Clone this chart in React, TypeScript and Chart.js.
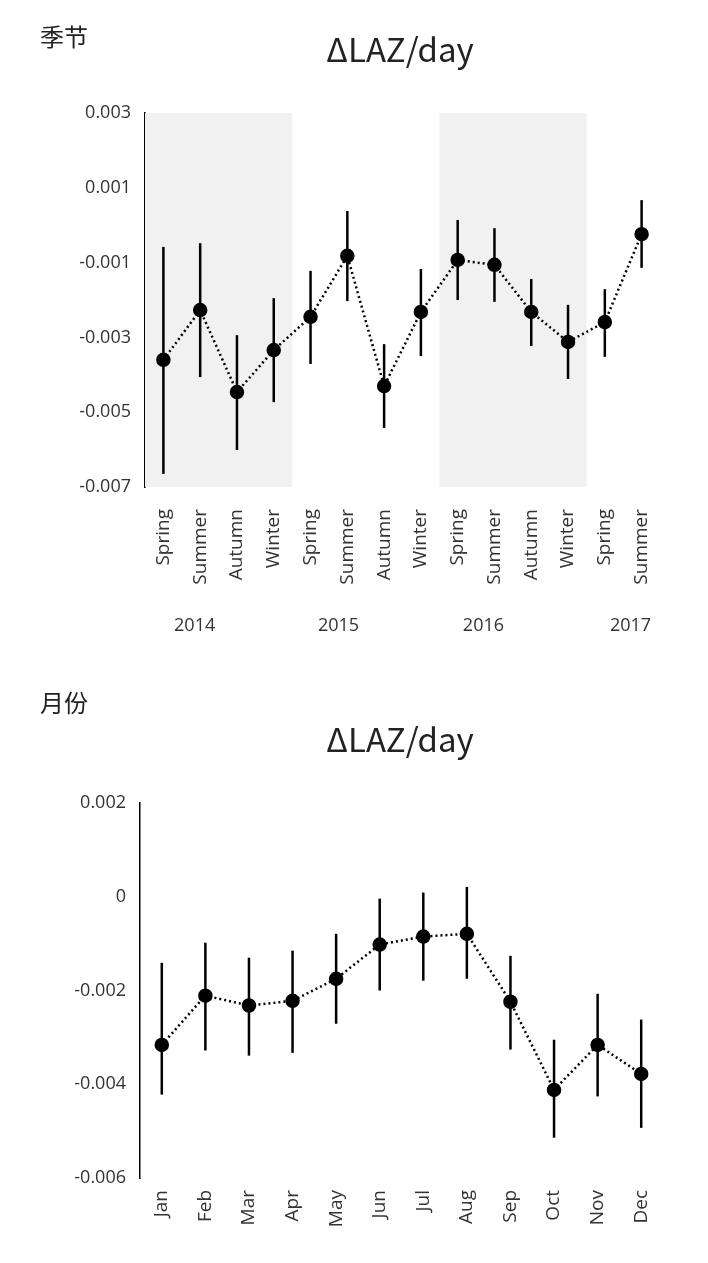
import React, { useEffect, useRef } from "react";
import { Chart, registerables } from "chart.js";
Chart.register(...registerables);

const seasonLabels = ["Spring","Summer","Autumn","Winter","Spring","Summer","Autumn","Winter","Spring","Summer","Autumn","Winter","Spring","Summer"];
const seasonMean = [-0.0036,-0.00227,-0.00446,-0.00334,-0.00245,-0.00082,-0.0043,-0.00232,-0.00093,-0.00106,-0.00232,-0.00312,-0.00259,-0.00024];
const seasonHigh = [-0.00058,-0.00048,-0.00294,-0.00195,-0.00122,0.00038,-0.00318,-0.00117,0.00014,-0.00008,-0.00144,-0.00213,-0.00171,0.00067];
const seasonLow = [-0.00665,-0.00406,-0.00601,-0.00473,-0.00371,-0.00203,-0.00542,-0.0035,-0.002,-0.00205,-0.00323,-0.00411,-0.00352,-0.00114];
const yearLabels = ["2014","2015","2016","2017"];
const yearPos = [0.85,4.76,8.7,12.7];
const shadedBlocks = [[0,3],[8,11]];

const monthLabels = ["Jan","Feb","Mar","Apr","May","Jun","Jul","Aug","Sep","Oct","Nov","Dec"];
const monthMean = [-0.00316,-0.00211,-0.00232,-0.00222,-0.00175,-0.00102,-0.00085,-0.00079,-0.00224,-0.00412,-0.00316,-0.00378];
const monthHigh = [-0.00141,-0.00098,-0.0013,-0.00115,-0.00079,-0.00004,0.00009,0.00021,-0.00126,-0.00305,-0.00207,-0.00262];
const monthLow = [-0.00422,-0.00328,-0.00339,-0.00333,-0.00271,-0.002,-0.00179,-0.00175,-0.00326,-0.00514,-0.00426,-0.00493];

const FONT = "'Open Sans', 'Noto Sans', sans-serif";

function fmt(v: number) {
  if (Math.abs(v) < 1e-9) return "0";
  return v.toFixed(3);
}

function makeChart(canvas: HTMLCanvasElement, cfg: any) {
  const { labels, mean, high, low, min, max, step, padTop, padRight, yWidth, xHeight, xPad, shade, years } = cfg;
  const plugin = {
    id: "extras",
    beforeDatasetsDraw(chart: any) {
      const ctx = chart.ctx;
      const xs = chart.scales.x, ys = chart.scales.y, a = chart.chartArea;
      if (shade) {
        ctx.save();
        ctx.fillStyle = "#f1f1f1";
        const half = (xs.getPixelForValue(1) - xs.getPixelForValue(0)) / 2;
        for (const [s, e] of shade) {
          const x0 = xs.getPixelForValue(s) - half, x1 = xs.getPixelForValue(e) + half;
          ctx.fillRect(x0, a.top, x1 - x0, a.bottom - a.top);
        }
        ctx.restore();
      }
      ctx.save();
      ctx.strokeStyle = "#000";
      ctx.lineWidth = 2.5;
      for (let i = 0; i < labels.length; i++) {
        const x = xs.getPixelForValue(i);
        ctx.beginPath();
        ctx.moveTo(x, ys.getPixelForValue(high[i]));
        ctx.lineTo(x, ys.getPixelForValue(low[i]));
        ctx.stroke();
      }
      ctx.restore();
    },
    afterDraw(chart: any) {
      if (!years) return;
      const ctx = chart.ctx, xs = chart.scales.x;
      const i0 = xs.getPixelForValue(0), step = xs.getPixelForValue(1) - i0;
      ctx.save();
      ctx.fillStyle = "#333";
      ctx.font = `18px ${FONT}`;
      ctx.textAlign = "center";
      ctx.textBaseline = "middle";
      years.labels.forEach((t: string, k: number) => ctx.fillText(t, i0 + years.pos[k] * step, years.y));
      ctx.restore();
    },
  };
  return new Chart(canvas, {
    type: "line",
    data: {
      labels,
      datasets: [{
        data: mean,
        borderColor: "#000",
        borderWidth: 2.5,
        borderDash: [2, 3],
        pointRadius: 6,
        pointBackgroundColor: "#000",
        pointBorderColor: "#000",
        tension: 0,
      }],
    },
    options: {
      animation: false,
      responsive: false,
      layout: { padding: { top: padTop, right: padRight, left: 0, bottom: 0 } },
      plugins: { legend: { display: false }, tooltip: { enabled: false } },
      scales: {
        x: {
          offset: true,
          grid: { display: false, drawTicks: false },
          border: { display: false },
          ticks: { color: "#333", font: { size: 19, family: FONT }, minRotation: 90, maxRotation: 90, padding: xPad },
          afterFit: (s: any) => { s.height = xHeight; },
        },
        y: {
          min, max,
          grid: { display: false, drawTicks: false },
          border: { display: true, color: "#000", width: 1.5 },
          ticks: { stepSize: step, color: "#333", font: { size: 18, family: FONT }, callback: (v: any) => fmt(Number(v)), padding: 14 },
          afterFit: (s: any) => { s.width = yWidth; },
        },
      },
    },
    plugins: [plugin],
  });
}

export default function App() {
  const r1 = useRef<HTMLCanvasElement>(null);
  const r2 = useRef<HTMLCanvasElement>(null);
  useEffect(() => {
    const c1 = makeChart(r1.current!, {
      labels: seasonLabels, mean: seasonMean, high: seasonHigh, low: seasonLow,
      min: -0.007, max: 0.003, step: 0.002, padTop: 113, padRight: 48, yWidth: 145, xHeight: 173, xPad: 22,
      shade: shadedBlocks, years: { labels: yearLabels, pos: yearPos, y: 626 },
    });
    const c2 = makeChart(r2.current!, {
      labels: monthLabels, mean: monthMean, high: monthHigh, low: monthLow,
      min: -0.006, max: 0.002, step: 0.002, padTop: 143, padRight: 45, yWidth: 140, xHeight: 85, xPad: 12,
      shade: null, years: null,
    });
    return () => { c1.destroy(); c2.destroy(); };
  }, []);
  const txt = (x: number, y: number, size: number, center = false): React.CSSProperties => ({
    position: "absolute", left: x, top: y, fontSize: size, fontFamily: "'Noto Sans CJK SC', " + FONT,
    color: "#222", lineHeight: 1, whiteSpace: "nowrap", transform: center ? "translateX(-50%)" : undefined,
  });
  return (
    <div style={{ position: "absolute", left: 0, top: 0, width: 708, height: 1263, background: "#fff", overflow: "hidden" }}>
      <canvas ref={r1} width={708} height={660} style={{ position: "absolute", left: 0, top: 0 }} />
      <canvas ref={r2} width={708} height={603} style={{ position: "absolute", left: 0, top: 660 }} />
      <div style={txt(40, 24, 24)}>季节</div>
      <div style={txt(400, 32, 33, true)}>ΔLAZ/day</div>
      <div style={txt(40, 690, 24)}>月份</div>
      <div style={txt(400, 722, 33, true)}>ΔLAZ/day</div>
    </div>
  );
}
